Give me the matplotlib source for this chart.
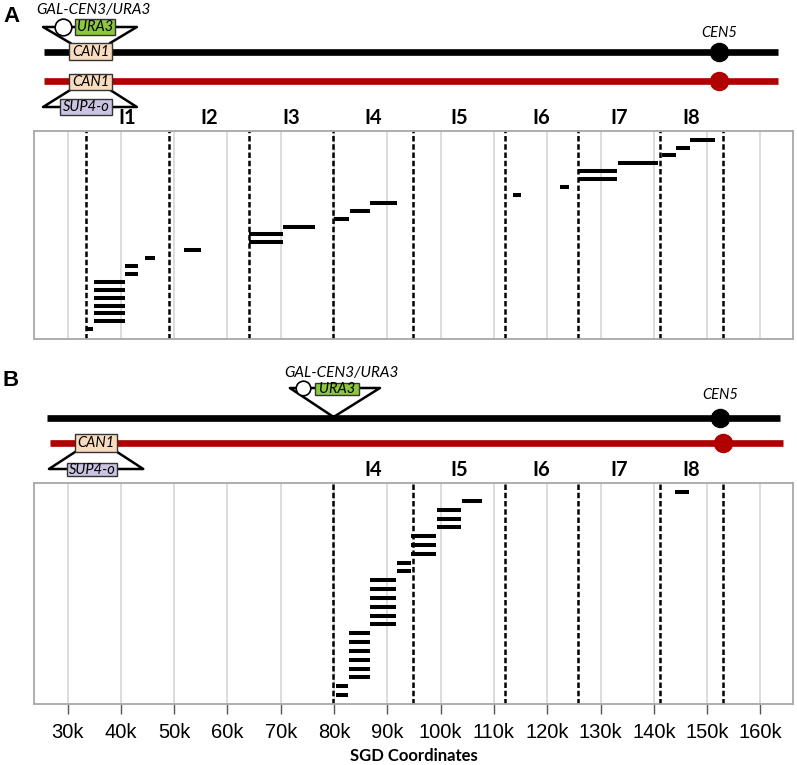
import numpy as np
import matplotlib
matplotlib.use('Agg')
import matplotlib.pyplot as plt
from matplotlib.patches import Rectangle

plt.rcParams['font.family'] = ['Lato', 'DejaVu Sans']

# ===== breakpoint segments, kb (one row each, bottom row first) =====
a_start = [33.5, 35.0, 35.0, 35.0, 35.0, 35.0, 35.0, 40.8, 40.8, 44.5, 51.8, 64.0, 64.0,
           70.5, 80.0, 82.9, 86.8, 113.6, 122.4, 126.0, 126.0, 133.2, 141.6, 144.2, 146.8]
a_end = [34.8, 40.8, 40.8, 40.8, 40.8, 40.8, 40.8, 43.2, 43.2, 46.4, 55.0, 70.4, 70.4,
         76.4, 82.8, 86.8, 91.8, 115.0, 124.1, 133.0, 133.0, 140.7, 144.2, 146.8, 151.4]

b_start = [80.4, 80.4, 82.8, 82.8, 82.8, 82.8, 82.8, 82.8, 86.75, 86.75, 86.75, 86.75,
           86.75, 86.75, 91.8, 91.8, 94.4, 94.4, 94.4, 99.3, 99.3, 99.3, 104.0, 144.0]
b_end = [82.7, 82.7, 86.75, 86.75, 86.75, 86.75, 86.75, 86.75, 91.6, 91.6, 91.6, 91.6,
         91.6, 91.6, 94.4, 94.4, 99.1, 99.1, 99.1, 103.8, 103.8, 103.8, 107.7, 146.6]

# interval boundaries (kb) and names
bounds = [33.5, 49.0, 64.0, 79.8, 94.8, 112.0, 125.8, 141.2, 152.9]
intervals = ['I1', 'I2', 'I3', 'I4', 'I5', 'I6', 'I7', 'I8']
b_first = 3   # panel B only shows I4..I8

grid_kb = np.arange(30, 161, 10)
XLIM = (23700, 166100)

W, H = 797, 765
fig = plt.figure(figsize=(W / 100, H / 100), dpi=100)

def box(top, bottom, left=34, right=793):
    # pixel box -> figure fraction
    return [left / W, 1 - bottom / H, (right - left) / W, (bottom - top) / H]

def panel(ax, starts, ends, first, ticks):
    ax.set_xlim(*XLIM)
    ax.set_xticks(grid_kb * 1000)
    ax.set_xticklabels(['%dk' % v for v in grid_kb])
    ax.set_yticks([])
    ax.grid(axis='x', color='#DCDCDC', lw=1.4)
    ax.set_axisbelow(True)
    for s in ax.spines.values():
        s.set_color('#A8A8A8')
        s.set_linewidth(1.3)
    rows = np.arange(len(starts))
    ax.hlines(rows, np.array(starts) * 1000, np.array(ends) * 1000,
              color='black', lw=2.9, capstyle='butt', zorder=3)
    for b in bounds[first:]:
        ax.axvline(b * 1000, color='black', lw=1.8, ls=(0, (2.2, 1.1)), zorder=2)
    for i in range(first, len(intervals)):
        mid = (bounds[i] + bounds[i + 1]) / 2 * 1000
        ax.annotate(intervals[i], (mid, 1), xycoords=('data', 'axes fraction'),
                    xytext=(0, 5), textcoords='offset points', ha='center',
                    va='baseline', fontsize=14.5, fontweight='bold', annotation_clip=False)
    if ticks:
        ax.tick_params(axis='x', length=7, width=1, color='#555555', pad=7,
                       labelsize=14.5)
        for t in ax.get_xticklabels():
            t.set_family(['Liberation Sans Narrow', 'Liberation Sans'])
    else:
        ax.tick_params(axis='x', length=0, labelbottom=False)

axA = fig.add_axes(box(131, 339))
panel(axA, a_start, a_end, 0, False)
axA.set_ylim(-1.23, 25.1)

axB = fig.add_axes(box(483, 704))
panel(axB, b_start, b_end, b_first, True)
axB.set_ylim(-1.02, 24.03)
axB.set_xlabel('SGD Coordinates', fontsize=12, fontweight='bold', labelpad=4)

# ===== chromosome schematics (x in bp, y in pixel rows) =====
RED = '#B00000'

def gene(ax, x0, x1, y0, y1, name, fc):
    ax.add_patch(Rectangle((x0, y0), x1 - x0, y1 - y0, fc=fc, ec='#333333',
                           lw=1.0, zorder=5))
    ax.text((x0 + x1) / 2, (y0 + y1) / 2, name, ha='center', va='center',
            style='italic', fontsize=10.5, zorder=6)

def chrom(ax, x0, x1, y, color, cen):
    ax.plot([x0, x1], [y, y], color=color, lw=4.8, solid_capstyle='butt', zorder=2)
    ax.plot(cen, y, 'o', color=color, ms=13, zorder=3)

dA = fig.add_axes(box(0, 131))
dA.set_xlim(*XLIM); dA.set_ylim(131, 0); dA.axis('off')
chrom(dA, 25600, 163300, 52, 'black', 152200)
chrom(dA, 25600, 163300, 81, RED, 152200)
dA.text(152200, 33, 'CEN5', ha='center', va='center', style='italic', fontsize=10.5)
dA.plot([30500, 25400, 43000, 38000], [43, 27, 27, 43], color='black', lw=1.8, zorder=4)
dA.plot([30500, 25400, 43000, 38000], [90, 107, 107, 90], color='black', lw=1.8, zorder=4)
dA.plot(29200, 27, 'o', mfc='white', mec='black', mew=1.2, ms=12, zorder=6)
gene(dA, 31400, 38900, 19, 35, 'URA3', '#8DC63F')
gene(dA, 30300, 38350, 43, 60, 'CAN1', '#F8DCC0')
gene(dA, 30300, 38350, 74, 90, 'CAN1', '#F8DCC0')
gene(dA, 28600, 38350, 99, 115, 'SUP4-o', '#CAC4E2')
dA.text(34800, 10, 'GAL-CEN3/URA3', ha='center', va='center', style='italic', fontsize=11)

dB = fig.add_axes(box(345, 483))
dB.set_xlim(*XLIM); dB.set_ylim(483, 345); dB.axis('off')
chrom(dB, 26150, 163700, 418, 'black', 152400)
chrom(dB, 26700, 164200, 443, RED, 153000)
dB.text(152400, 395, 'CEN5', ha='center', va='center', style='italic', fontsize=10.5)
dB.plot([79900, 71700, 88600, 79900], [417, 388, 388, 417], color='black', lw=1.8, zorder=4)
dB.plot([31400, 26500, 44200, 39300], [452, 469, 469, 452], color='black', lw=1.8, zorder=4)
dB.plot(74200, 388, 'o', mfc='white', mec='black', mew=1.2, ms=10.5, zorder=6)
gene(dB, 76400, 84700, 383, 395, 'URA3', '#8DC63F')
gene(dB, 31400, 39300, 434, 452, 'CAN1', '#F8DCC0')
gene(dB, 29900, 39300, 463, 476, 'SUP4-o', '#CAC4E2')
dB.text(81400, 373, 'GAL-CEN3/URA3', ha='center', va='center', style='italic', fontsize=11)

fig.text(3 / W, 1 - 22 / H, 'A', fontsize=16, fontweight='bold',
         family='Liberation Sans', va='baseline')
fig.text(3 / W, 1 - 386 / H, 'B', fontsize=16, fontweight='bold',
         family='Liberation Sans', va='baseline')

fig.savefig('out.png', dpi=100)
